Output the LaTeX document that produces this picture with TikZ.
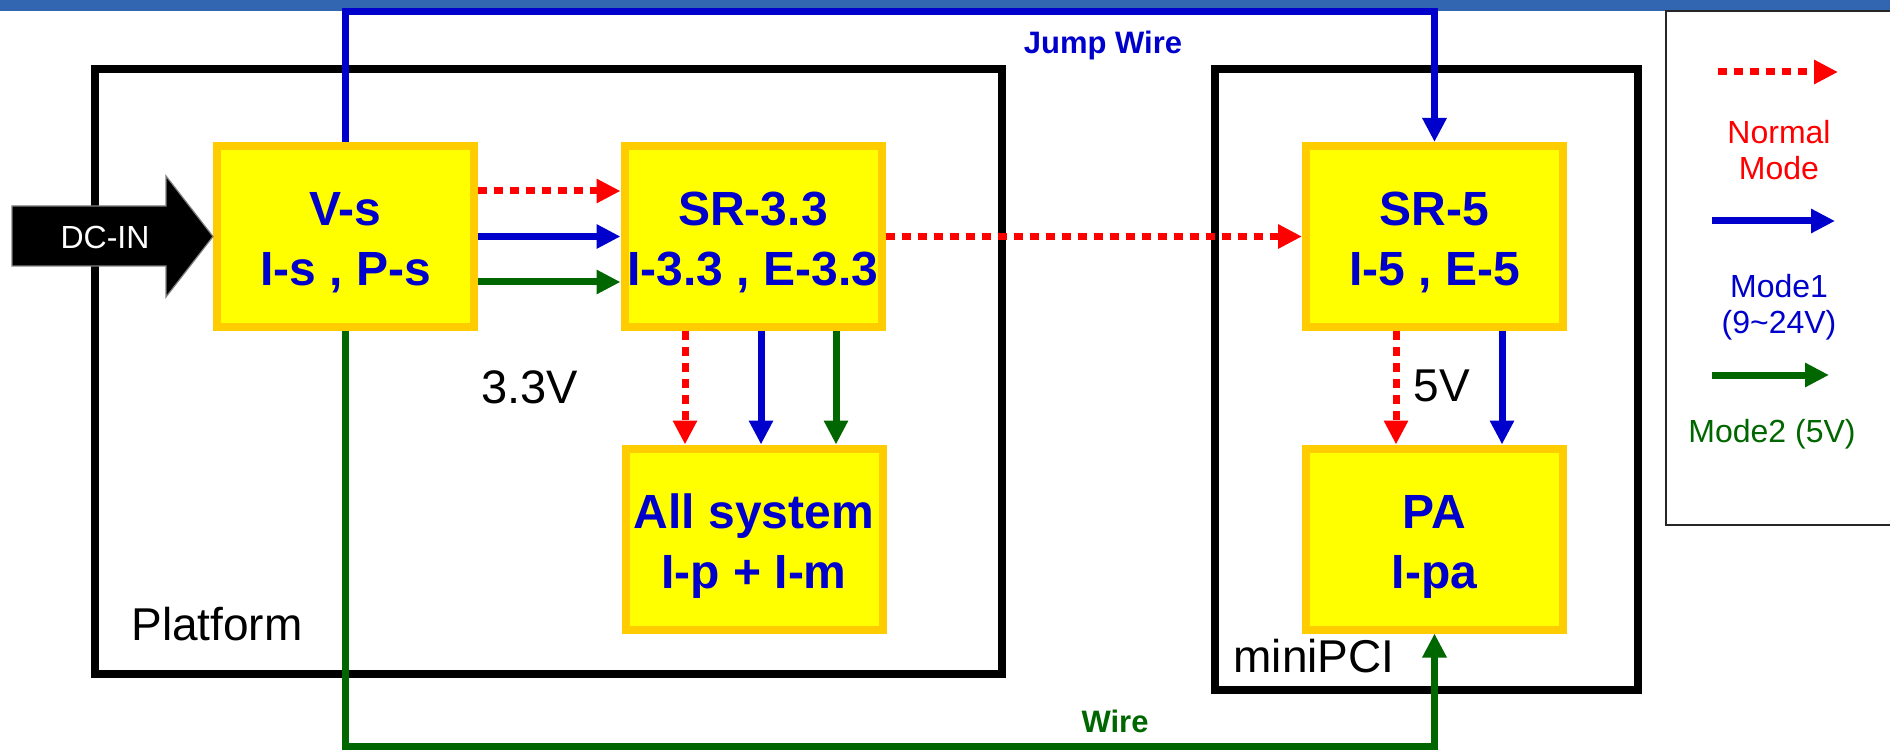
\documentclass[tikz,border=0pt]{standalone}
\usepackage{fontspec}
\setmainfont{Liberation Sans}
\usetikzlibrary{arrows.meta,calc}
\definecolor{tbar}{RGB}{51,102,176}
\definecolor{mblue}{RGB}{0,0,204}
\definecolor{mgreen}{RGB}{0,102,0}
\definecolor{mred}{RGB}{255,0,0}
\definecolor{bord}{RGB}{255,204,0}
\definecolor{yfill}{RGB}{255,255,0}
\begin{document}
\begin{tikzpicture}[x=1pt,y=-1pt,
 blk/.style={draw=bord, fill=yfill, line width=8pt, minimum width=257pt, minimum height=181pt, inner sep=0pt},
 btxt/.style={align=center, text=mblue, font=\fontsize{48}{60}\selectfont\bfseries, anchor=base, inner sep=0pt},
 frame/.style={draw=black, line width=8pt, inner sep=0pt},
 tipr/.style={-{Triangle[length=24pt,width=23pt]}},
 wred/.style={draw=mred, line width=7pt, dash pattern=on 9pt off 7pt, tipr},
 wblue/.style={draw=mblue, line width=7pt, tipr},
 wgreen/.style={draw=mgreen, line width=7pt, tipr},
 lbl/.style={font=\fontsize{46}{55}\selectfont, anchor=base, inner sep=0pt},
 wlbl/.style={font=\fontsize{31}{36}\selectfont\bfseries, anchor=base, inner sep=0pt},
 leg/.style={font=\fontsize{32}{36}\selectfont, align=center, inner sep=0pt},
]
\useasboundingbox (0,0) rectangle (1890,751);
% top bar
\fill[tbar] (0,0) rectangle (1890,11);
% frames
\node[frame, minimum width=907pt, minimum height=604.5pt] (plat) at (548.5,371.75) {};
\node[frame, minimum width=423pt, minimum height=620.5pt] (mpci) at (1426.5,379.75) {};
\node[draw=black!85, line width=2pt, minimum width=240pt, minimum height=514pt, inner sep=0pt] (legend) at (1786,268) {};
% boxes
\node[blk] (vs) at (345.5,236.5) {};
\node[blk] (sr33) at (753,236.5) {};
\node[blk] (all) at (754,539) {};
\node[blk] (sr5) at (1434.5,236.5) {};
\node[blk] (pa) at (1434.5,539) {};
\node[btxt] (vst) at ($(vs.center)+(0,49)$) {V-s\\I-s , P-s};
\node[btxt] (sr33t) at ($(sr33.center)+(0,49)$) {SR-3.3\\I-3.3 , E-3.3};
\node[btxt] (allt) at ($(all.center)+(0,49)$) {All system\\I-p + I-m};
\node[btxt] (sr5t) at ($(sr5.center)+(0,49)$) {SR-5\\I-5 , E-5};
\node[btxt] (pat) at ($(pa.center)+(0,49)$) {PA\\I-pa};
% DC-IN arrow
\filldraw[fill=black, draw=black!50, line width=1.2pt] (12,206) -- (166,206) -- (166,176) -- (vs.west) -- (166,297) -- (166,266) -- (12,266) -- cycle;
\node[font=\fontsize{32}{36}\selectfont, text=white, anchor=base, inner sep=0pt] (dcin) at (105,249) {DC-IN};
% wires
\draw[wblue] (vs.north) |- ($(sr5.north)+(0,-130)$) -- (sr5.north);
\draw[wgreen] (vs.south) |- ($(pa.south)+(0,113)$) -- (pa.south);
% V-s to SR-3.3
\draw[wred] ([yshift=45.5pt]vs.east) -- ([yshift=45.5pt]sr33.west);
\draw[wblue] (vs.east) -- (sr33.west);
\draw[wgreen] ([yshift=-45.5pt]vs.east) -- ([yshift=-45.5pt]sr33.west);
% SR-3.3 to SR-5
\draw[wred] (sr33.east) -- (sr5.west);
% SR-3.3 to All system
\draw[wred] ($(sr33.south)+(-68,0)$) -- ($(sr33.south |- all.north)+(-68,0)$);
\draw[wblue] ($(sr33.south)+(8,0)$) -- ($(sr33.south |- all.north)+(8,0)$);
\draw[wgreen] ($(sr33.south)+(83,0)$) -- ($(sr33.south |- all.north)+(83,0)$);
% SR-5 to PA
\draw[wred] ($(sr5.south)+(-38.5,0)$) -- ($(pa.north)+(-38.5,0)$);
\draw[wblue] ($(sr5.south)+(67.5,0)$) -- ($(pa.north)+(67.5,0)$);
% labels
\node[wlbl, text=mblue] (jw) at (1103,54) {Jump Wire};
\node[wlbl, text=mgreen] (wl) at (1115,732) {Wire};
\node[lbl] (platl) at (217,640) {Platform};
\node[font=\fontsize{47}{55}\selectfont, anchor=base, inner sep=0pt] (v33) at (530,403) {3.3V};
\node[lbl] (v5) at (1442,401) {5V};
\node[lbl] (mpcil) at (1314,672) {miniPCI};
% legend
\coordinate (lr1) at (1718,72); \coordinate (lr2) at (1838,72);
\coordinate (lb1) at (1712,221); \coordinate (lb2) at (1835,221);
\coordinate (lg1) at (1712,375); \coordinate (lg2) at (1829,375);
\draw[wred] (lr1) -- (lr2);
\draw[wblue] (lb1) -- (lb2);
\draw[wgreen] (lg1) -- (lg2);
\node[leg, text=mred] (ln) at (1779,150) {Normal\\Mode};
\node[leg, text=mblue] (lm1) at (1779,307) {Mode1\\(9\textasciitilde24V)};
\node[leg, text=mgreen, anchor=base] (lm2) at (1772,442) {Mode2 (5V)};
\end{tikzpicture}
\end{document}
